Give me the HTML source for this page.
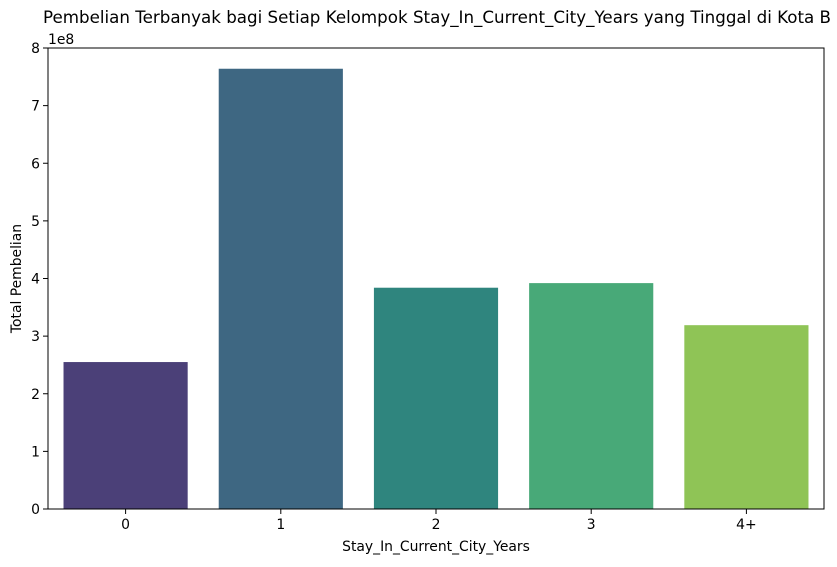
<!DOCTYPE html>
<html><head><meta charset="utf-8"><style>
body{margin:0;background:#fff}
svg text{font-family:"DejaVu Sans","Liberation Sans",sans-serif;fill:#000}
</style></head><body>
<svg id="chart" width="837" height="562" xmlns="http://www.w3.org/2000/svg">
<text x="437" y="23" font-size="16.7" text-anchor="middle">Pembelian Terbanyak bagi Setiap Kelompok Stay_In_Current_City_Years yang Tinggal di Kota B</text>
<text x="436" y="551" font-size="13.9" text-anchor="middle">Stay_In_Current_City_Years</text>
<text transform="translate(21,278.5) rotate(-90)" font-size="13.9" text-anchor="middle">Total Pembelian</text>
<text x="48" y="44" font-size="13.9">1e8</text>
<g id="bars"></g><g id="axes"></g>
</svg>
<script>
const categories=["0","1","2","3","4+"];
const values=[2.55e8,7.64e8,3.84e8,3.92e8,3.19e8];
const colors=["#4b4078","#3e6782","#2f857e","#48a978","#8fc456"];
const yTicks=[0,1,2,3,4,5,6,7,8];
const NS="http://www.w3.org/2000/svg";
const L=48,R=824,T=48,B=509,yMax=8e8;
const xs=i=>L+(i+0.5)*(R-L)/categories.length;
const ys=v=>B-(v/yMax)*(B-T);
const bw=0.8*(R-L)/categories.length;
const bars=document.getElementById('bars'),axes=document.getElementById('axes');
function mk(t,a,p){const e=document.createElementNS(NS,t);for(const k in a)e.setAttribute(k,a[k]);p.appendChild(e);return e;}
values.forEach((v,i)=>{
 const r=mk('rect',{x:xs(i)-bw/2,y:ys(v),width:bw,height:B-ys(v),fill:colors[i]},bars);
 
 
 const tk=mk('line',{x1:xs(i),x2:xs(i),y1:B,y2:B+5,stroke:'#000','stroke-width':1},axes);
 
 
 const tl=mk('text',{x:xs(i),y:B+20,'font-size':13.9,'text-anchor':'middle'},axes);
 tl.textContent=categories[i];
 
 
});
yTicks.forEach(t=>{
 const y=ys(t*1e8);
 const tk=mk('line',{x1:L-5,x2:L,y1:y,y2:y,stroke:'#000','stroke-width':1},axes);
 
 
 const tl=mk('text',{x:L-8,y:y+5,'font-size':13.9,'text-anchor':'end'},axes);
 tl.textContent=t;
 
 
});
const fr=mk('rect',{x:L,y:T,width:R-L,height:B-T,fill:'none',stroke:'#000','stroke-width':1},axes);


</script>
</body></html>
